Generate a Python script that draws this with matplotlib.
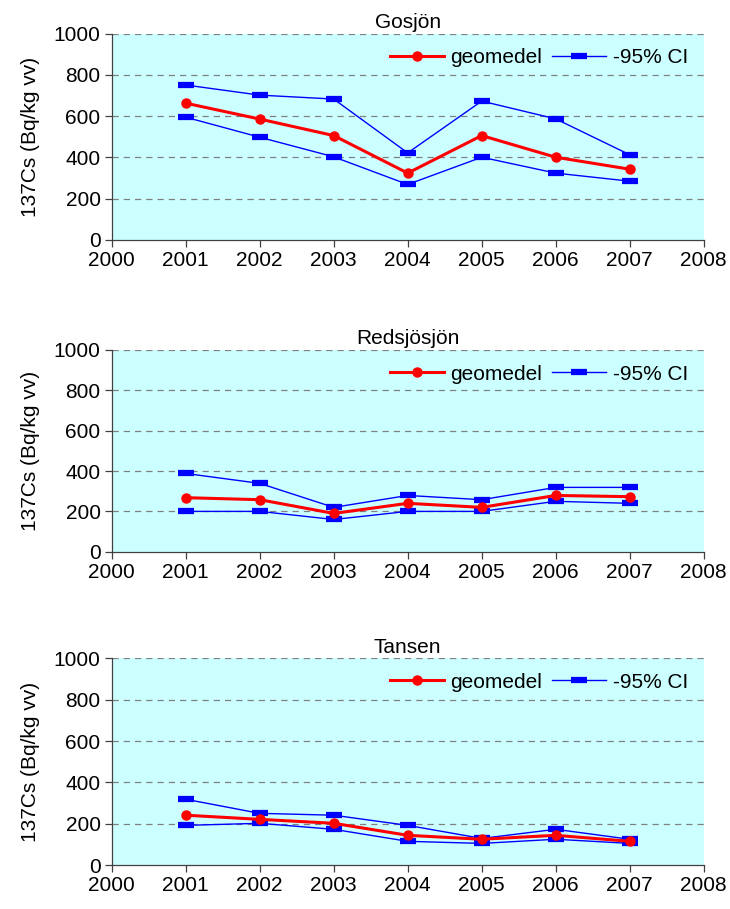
import matplotlib
matplotlib.use('Agg')
import matplotlib.pyplot as plt

plt.rcParams['font.family'] = ['Liberation Sans', 'DejaVu Sans']

years = [2001, 2002, 2003, 2004, 2005, 2006, 2007]
lakes = ["Gosjön", "Redsjösjön", "Tansen"]

# geometric mean and 95% confidence limits, Bq/kg wet weight
gosjon_mean = [663, 586, 506, 324, 506, 401, 343]
gosjon_upper = [751, 702, 683, 422, 673, 587, 413]
gosjon_lower = [595, 498, 403, 269, 401, 324, 285]

redsjo_mean = [268, 258, 190, 240, 220, 279, 273]
redsjo_upper = [388, 339, 220, 279, 258, 319, 319]
redsjo_lower = [200, 200, 160, 200, 200, 250, 240]

tansen_mean = [242, 222, 203, 145, 126, 145, 116]
tansen_upper = [319, 251, 242, 193, 130, 174, 126]
tansen_lower = [193, 203, 174, 116, 106, 126, 106]

means = [gosjon_mean, redsjo_mean, tansen_mean]
uppers = [gosjon_upper, redsjo_upper, tansen_upper]
lowers = [gosjon_lower, redsjo_lower, tansen_lower]

fig = plt.figure(figsize=(7.30, 9.09), dpi=100)

# axes boxes in figure fractions (left, bottom, width, height)
boxes = [
    (0.153, 0.736, 0.811, 0.227),
    (0.153, 0.393, 0.811, 0.222),
    (0.153, 0.048, 0.811, 0.228),
]

for box, name, m, up, lo in zip(boxes, lakes, means, uppers, lowers):
    ax = fig.add_axes(box)
    ax.set_facecolor('#ccffff')

    ax.plot(years, up, color='#0000ff', lw=1, marker='_', ms=12, mew=4.5,
            label='_nolegend_', zorder=3)
    ax.plot(years, lo, color='#0000ff', lw=1, marker='_', ms=12, mew=4.5,
            label='-95% CI', zorder=3)
    ax.plot(years, m, color='#ff0000', lw=2.2, marker='o', ms=6.5,
            label='geomedel', zorder=4)

    ax.set_xlim(2000, 2008)
    ax.set_ylim(0, 1000)
    ax.set_xticks(range(2000, 2009))
    ax.set_yticks(range(0, 1001, 200))

    for y in range(200, 1001, 200):
        ax.axhline(y, color='#808080', lw=0.9, ls=(0, (5, 4)), zorder=1)

    for s in ['top', 'right']:
        ax.spines[s].set_visible(False)
    for s in ['left', 'bottom']:
        ax.spines[s].set_color('#404040')
        ax.spines[s].set_linewidth(0.9)

    ax.tick_params(axis='both', labelsize=15, length=5, width=0.9,
                   color='#404040', direction='out', pad=3)
    ax.set_ylabel('137Cs (Bq/kg vv)', fontsize=15, labelpad=10)
    ax.set_title(name, fontsize=15, pad=4)

    h, l = ax.get_legend_handles_labels()
    order = [l.index('geomedel'), l.index('-95% CI')]
    ax.legend([h[i] for i in order], [l[i] for i in order], ncol=2,
              frameon=False, fontsize=15, loc='upper right',
              bbox_to_anchor=(1.005, 1.02), handlelength=2.6,
              handletextpad=0.3, columnspacing=0.5)

fig.savefig('out.png', dpi=100)
